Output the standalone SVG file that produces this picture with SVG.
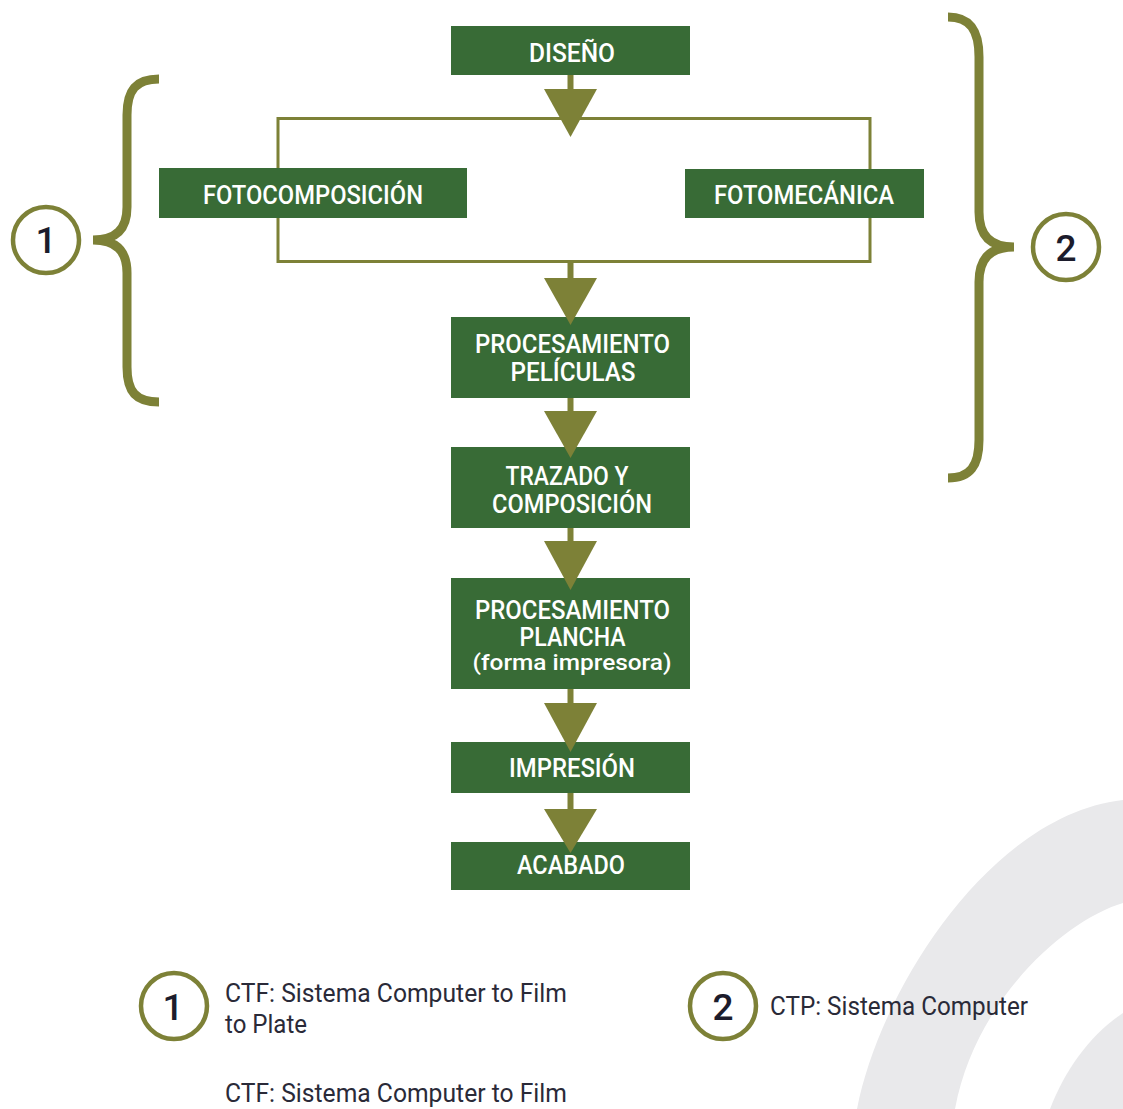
<svg xmlns="http://www.w3.org/2000/svg" width="1123" height="1109" viewBox="0 0 1123 1109">
<style>
  .box { fill: #386b36; }
  .bt { fill: #ffffff; font-family: Roboto, "Liberation Sans", sans-serif; font-size: 25px; font-weight: 500; text-anchor: middle; }
  .bs { font-size: 22px; }
  .lt { fill: #2a2a38; font-family: Roboto, "Liberation Sans", sans-serif; font-size: 25px; }
  .num { fill: #1c1c2c; font-family: Roboto, "Liberation Sans", sans-serif; font-size: 37px; font-weight: 500; text-anchor: middle; }
  .ring { fill: none; stroke: #7d8137; stroke-width: 4.5; }
  .brace { fill: none; stroke: #7d8137; stroke-width: 9; }
  .outline { fill: none; stroke: #7d8137; stroke-width: 3; }
  .stem { stroke: #7d8137; stroke-width: 6; }
  .head { fill: #7d8137; }
  .bg { fill: #e9e9eb; }
</style>

<g id="background">
  <path class="bg" d="M857,1109 C880,990 990,815 1123,800 L1123,903 C1065,920 975,1000 955,1109 Z"/>
  <path class="bg" d="M1050,1109 C1065,1070 1090,1035 1123,1013 L1123,1109 Z"/>
</g>

<g id="connectors-frame">
  <rect class="outline" x="278" y="118.5" width="592" height="143"/>
</g>

<g id="braces">
  <path class="brace" d="M159,79 C136,79 127,90 127,115 L127,207 C127,229 116,240 93,240 C116,240 127,251 127,273 L127,367 C127,392 136,402 159,402"/>
  <path class="brace" d="M948,17 C970,17 979,30 979,57 L979,212 C979,235 990,247 1014,247 C990,247 979,259 979,282 L979,440 C979,466 970,478 948,478"/>
</g>

<g id="marker-1">
  <circle class="ring" cx="46" cy="240" r="33"/>
  <text class="num" x="46" y="253">1</text>
</g>
<g id="marker-2">
  <circle class="ring" cx="1066" cy="247" r="33"/>
  <text class="num" x="1066" y="261">2</text>
</g>

<g id="node-diseno">
  <rect class="box" x="451" y="26" width="239" height="49"/>
  <text class="bt" x="572" y="62" textLength="86" lengthAdjust="spacingAndGlyphs">DISEÑO</text>
</g>
<g id="node-fotocomposicion">
  <rect class="box" x="159" y="168" width="308" height="50"/>
  <text class="bt" x="313" y="204" textLength="220" lengthAdjust="spacingAndGlyphs">FOTOCOMPOSICIÓN</text>
</g>
<g id="node-fotomecanica">
  <rect class="box" x="685" y="169" width="239" height="49"/>
  <text class="bt" x="804" y="204" textLength="180" lengthAdjust="spacingAndGlyphs">FOTOMECÁNICA</text>
</g>
<g id="node-procesamiento-peliculas">
  <rect class="box" x="451" y="317" width="239" height="81"/>
  <text class="bt" x="572.5" y="353" textLength="195" lengthAdjust="spacingAndGlyphs">PROCESAMIENTO</text>
  <text class="bt" x="573" y="381" textLength="125" lengthAdjust="spacingAndGlyphs">PELÍCULAS</text>
</g>
<g id="node-trazado">
  <rect class="box" x="451" y="447" width="239" height="81"/>
  <text class="bt" x="567" y="485" textLength="123" lengthAdjust="spacingAndGlyphs">TRAZADO Y</text>
  <text class="bt" x="572" y="513" textLength="160" lengthAdjust="spacingAndGlyphs">COMPOSICIÓN</text>
</g>
<g id="node-procesamiento-plancha">
  <rect class="box" x="451" y="578" width="239" height="111"/>
  <text class="bt" x="572.5" y="619" textLength="195" lengthAdjust="spacingAndGlyphs">PROCESAMIENTO</text>
  <text class="bt" x="572.5" y="646" textLength="106" lengthAdjust="spacingAndGlyphs">PLANCHA</text>
  <text class="bt bs" x="572" y="670" textLength="199" lengthAdjust="spacingAndGlyphs">(forma impresora)</text>
</g>
<g id="node-impresion">
  <rect class="box" x="451" y="742" width="239" height="51"/>
  <text class="bt" x="572" y="777" textLength="126" lengthAdjust="spacingAndGlyphs">IMPRESIÓN</text>
</g>
<g id="node-acabado">
  <rect class="box" x="451" y="842" width="239" height="48"/>
  <text class="bt" x="571" y="874" textLength="108" lengthAdjust="spacingAndGlyphs">ACABADO</text>
</g>

<g id="connectors">
  <line class="stem" x1="570.5" y1="75" x2="570.5" y2="92"/>
  <polygon class="head" points="544,89 597,89 570.5,137"/>
  <line class="stem" x1="570.5" y1="261" x2="570.5" y2="281"/>
  <polygon class="head" points="544,278 597,278 570.5,325"/>
  <line class="stem" x1="570.5" y1="398" x2="570.5" y2="414"/>
  <polygon class="head" points="544,411 597,411 570.5,458"/>
  <line class="stem" x1="570.5" y1="528" x2="570.5" y2="544"/>
  <polygon class="head" points="544,541 597,541 570.5,590"/>
  <line class="stem" x1="570.5" y1="689" x2="570.5" y2="706"/>
  <polygon class="head" points="544,703 597,703 570.5,752"/>
  <line class="stem" x1="570.5" y1="793" x2="570.5" y2="812"/>
  <polygon class="head" points="544,809 597,809 570.5,853"/>
</g>

<g id="legend">
  <g id="legend-1">
    <circle class="ring" cx="174" cy="1006" r="33" stroke-width="5"/>
    <text class="num" x="173" y="1020">1</text>
    <text class="lt" x="225" y="1002" textLength="342" lengthAdjust="spacingAndGlyphs">CTF: Sistema Computer to Film</text>
    <text class="lt" x="225" y="1033" textLength="82" lengthAdjust="spacingAndGlyphs">to Plate</text>
    <text class="lt" x="225" y="1102" textLength="342" lengthAdjust="spacingAndGlyphs">CTF: Sistema Computer to Film</text>
  </g>
  <g id="legend-2">
    <circle class="ring" cx="723" cy="1006" r="33" stroke-width="5"/>
    <text class="num" x="723" y="1020" font-weight="700">2</text>
    <text class="lt" x="770" y="1015" textLength="258" lengthAdjust="spacingAndGlyphs">CTP: Sistema Computer</text>
  </g>
</g>
</svg>
